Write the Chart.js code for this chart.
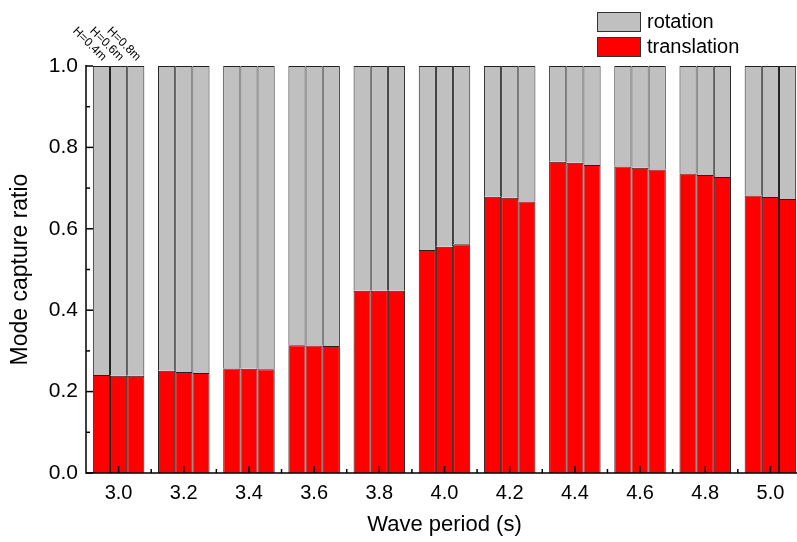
<!DOCTYPE html>
<html>
<head>
<meta charset="utf-8">
<script src="https://cdn.jsdelivr.net/npm/chart.js@4.4.1/dist/chart.umd.min.js"></script>
<style>
  html, body { margin: 0; padding: 0; background: #fff; overflow: hidden; }
  #wrap { position: relative; width: 806px; height: 542px; }
  .legend { position: absolute; left: 597px; font: 20px "Liberation Sans", Arial, sans-serif; color: #000; }
  .legend div { display: flex; align-items: center; height: 25px; }
  .legend span.box { display: inline-block; width: 42px; height: 18px; border: 1px solid #333; margin-right: 6px; }
</style>
</head>
<body>
<div id="wrap">
  <canvas id="chart"></canvas>
  <div class="legend" style="top: 9px;">
    <div><span class="box" style="background:#c0c0c0"></span>rotation</div>
    <div><span class="box" style="background:#ff0000"></span>translation</div>
  </div>
</div>
<script>
const periods = ['3.0', '3.2', '3.4', '3.6', '3.8', '4.0', '4.2', '4.4', '4.6', '4.8', '5.0'];
const heights = ['H=0.4m', 'H=0.6m', 'H=0.8m'];

// translation share of the captured mode
const transH04 = [0.241, 0.251, 0.257, 0.314, 0.448, 0.548, 0.679, 0.765, 0.753, 0.736, 0.682];
const transH06 = [0.239, 0.248, 0.256, 0.313, 0.448, 0.556, 0.676, 0.762, 0.750, 0.732, 0.678];
const transH08 = [0.239, 0.246, 0.255, 0.312, 0.448, 0.562, 0.667, 0.757, 0.746, 0.727, 0.673];

// rotation share
const rotH04 = [0.759, 0.749, 0.743, 0.686, 0.552, 0.452, 0.321, 0.235, 0.247, 0.264, 0.318];
const rotH06 = [0.761, 0.752, 0.744, 0.687, 0.552, 0.444, 0.324, 0.238, 0.250, 0.268, 0.322];
const rotH08 = [0.761, 0.754, 0.745, 0.688, 0.552, 0.438, 0.333, 0.243, 0.254, 0.273, 0.327];

const yTicks = [0, 0.2, 0.4, 0.6, 0.8, 1.0];

const FONT = '"Liberation Sans", Arial, sans-serif';
const RED = '#ff0000';
const GREY = '#c0c0c0';

const bar = (label, data, stack, color) => ({
  label, data, stack,
  backgroundColor: color,
  borderColor: '#222',
  borderWidth: 1,
});

// inside ticks, axis lines and the H labels
const axisPlugin = {
  id: 'axisPlugin',
  afterDatasetsDraw(chart) {
    const { ctx, chartArea, scales } = chart;
    const { left, bottom } = chartArea;
    ctx.save();
    ctx.strokeStyle = '#000';
    ctx.lineWidth = 1.5;

    // y ticks (major 0.2, minor 0.1)
    for (let k = 0; k <= 10; k++) {
      const y = scales.y.getPixelForValue(k / 10);
      const len = k % 2 === 0 ? 7 : 4;
      ctx.beginPath();
      ctx.moveTo(left, y);
      ctx.lineTo(left + len, y);
      ctx.stroke();
    }
    // x ticks
    for (let i = 0; i < periods.length; i++) {
      const x = scales.x.getPixelForValue(i);
      ctx.beginPath();
      ctx.moveTo(x, bottom);
      ctx.lineTo(x, bottom - 7);
      ctx.stroke();
      if (i < periods.length - 1) {
        const xm = (x + scales.x.getPixelForValue(i + 1)) / 2;
        ctx.beginPath();
        ctx.moveTo(xm, bottom);
        ctx.lineTo(xm, bottom - 4);
        ctx.stroke();
      }
    }
    // axis lines
    ctx.beginPath();
    ctx.moveTo(left, chartArea.top - 1);
    ctx.lineTo(left, bottom);
    ctx.lineTo(chartArea.right + 5, bottom);
    ctx.stroke();

    // H labels above the first group
    ctx.fillStyle = '#000';
    ctx.font = '12px ' + FONT;
    ctx.textAlign = 'right';
    ctx.textBaseline = 'middle';
    heights.forEach((h, j) => {
      const el = chart.getDatasetMeta(j).data[0];
      ctx.save();
      ctx.translate(el.x + 3, chartArea.top - 7);
      ctx.rotate(Math.PI / 4);
      ctx.fillText(h, 0, 0);
      ctx.restore();
    });
    ctx.restore();
  }
};

new Chart(document.getElementById('chart'), {
  type: 'bar',
  data: {
    labels: periods,
    datasets: [
      bar('translation', transH04, 's1', RED),
      bar('translation', transH06, 's2', RED),
      bar('translation', transH08, 's3', RED),
      bar('rotation', rotH04, 's1', GREY),
      bar('rotation', rotH06, 's2', GREY),
      bar('rotation', rotH08, 's3', GREY),
    ]
  },
  options: {
    responsive: true,
    maintainAspectRatio: false,
    animation: false,
    layout: { padding: { top: 66, right: 3, left: 0, bottom: 0 } },
    datasets: { bar: { categoryPercentage: 0.79, barPercentage: 1.0 } },
    plugins: { legend: { display: false }, tooltip: { enabled: false } },
    scales: {
      x: {
        stacked: true,
        grid: { display: false, drawTicks: false },
        border: { display: false },
        ticks: { color: '#000', font: { family: FONT, size: 20 }, padding: 8, maxRotation: 0 },
        title: { display: true, text: 'Wave period (s)', color: '#000', font: { family: FONT, size: 22 }, padding: { top: 0, bottom: 4 } },
        afterFit(scale) { scale.height = 69; }
      },
      y: {
        stacked: true,
        min: 0,
        max: 1,
        grid: { display: false, drawTicks: false },
        border: { display: false },
        afterBuildTicks(scale) { scale.ticks = yTicks.map(v => ({ value: v })); },
        ticks: { color: '#000', font: { family: FONT, size: 21 }, padding: 8, callback: v => Number(v).toFixed(1) },
        title: { display: true, text: 'Mode capture ratio', color: '#000', font: { family: FONT, size: 23 }, padding: { top: 7, bottom: 0 } },
        afterFit(scale) { scale.width = 86; }
      }
    }
  },
  plugins: [axisPlugin]
});
</script>
</body>
</html>
